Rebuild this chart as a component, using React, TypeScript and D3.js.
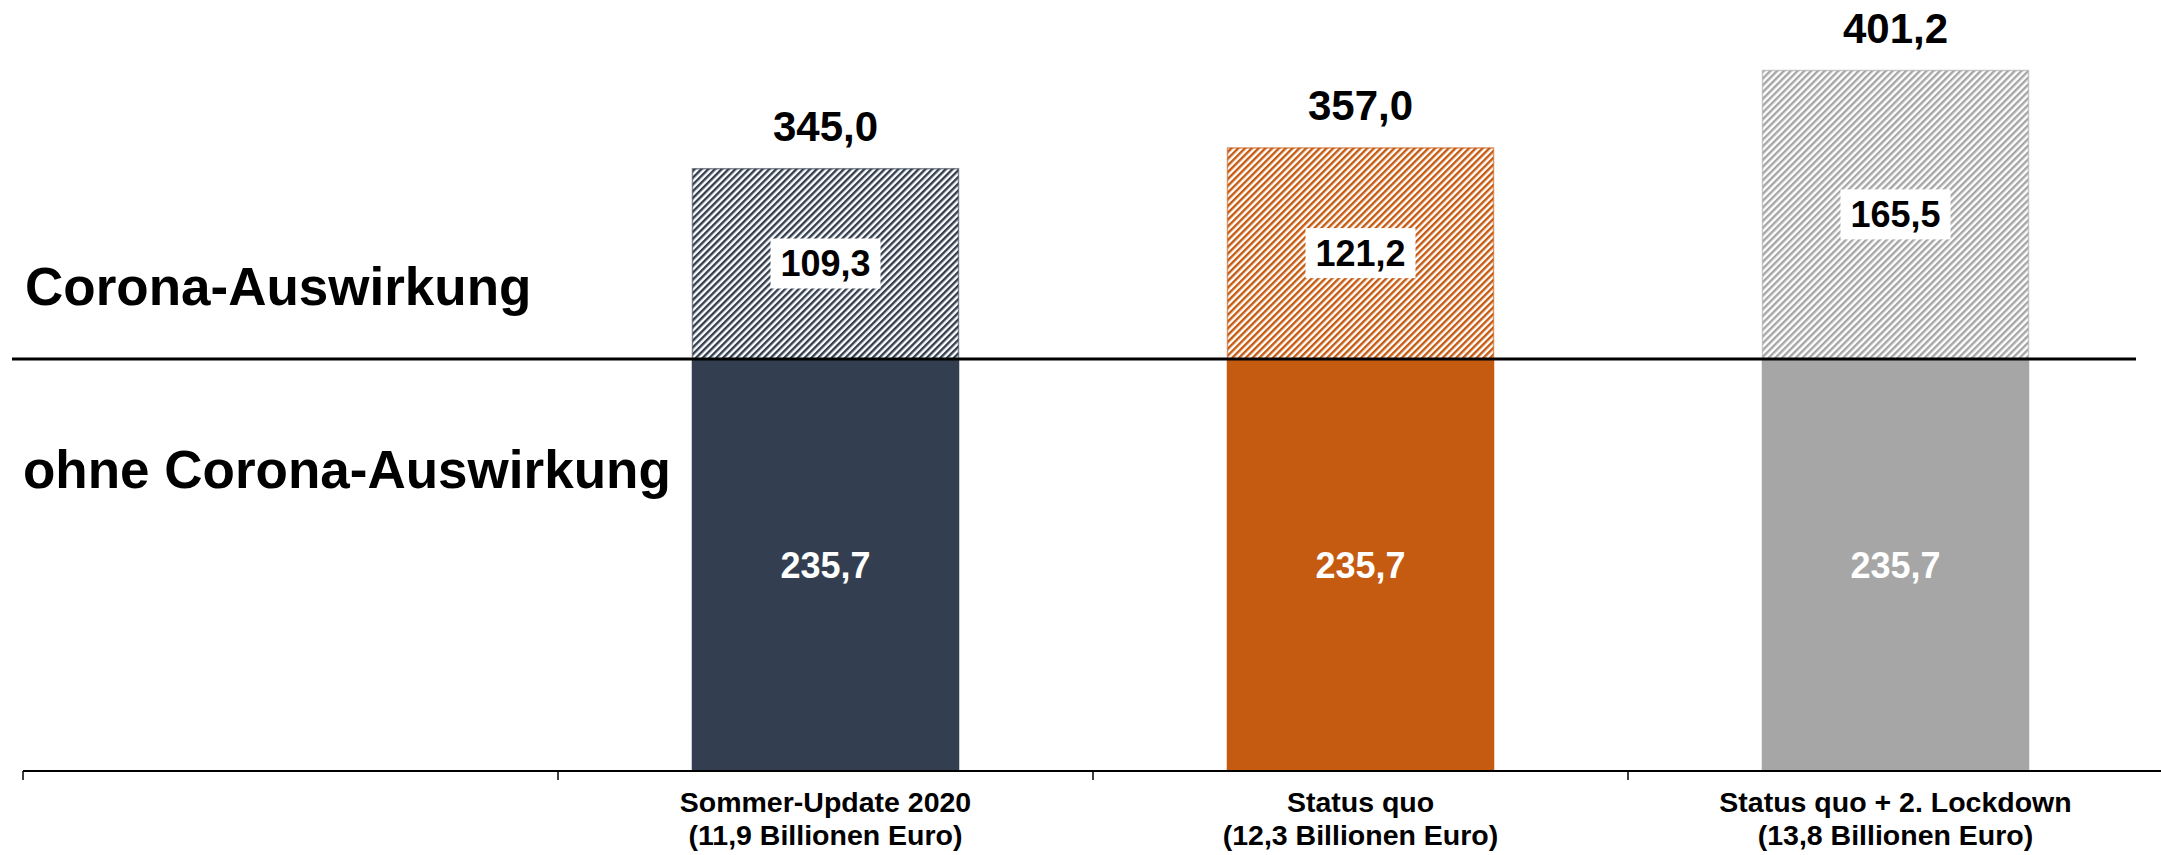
import React from "react";
import * as d3 from "d3";

const categories = ["", "Sommer-Update 2020", "Status quo", "Status quo + 2. Lockdown"];
const subLabels = ["", "(11,9 Billionen Euro)", "(12,3 Billionen Euro)", "(13,8 Billionen Euro)"];
const scenarios = ["Sommer-Update 2020", "Status quo", "Status quo + 2. Lockdown"];
const baseValues = [235.7, 235.7, 235.7];
const coronaValues = [109.3, 121.2, 165.5];
const totalValues = [345.0, 357.0, 401.2];
const colors = ["#333F50", "#C55A11", "#A6A6A6"];
const rowLabels = ["Corona-Auswirkung", "ohne Corona-Auswirkung"];

const W = 2161;
const H = 855;
const FONT = "'Liberation Sans', Arial, Helvetica, sans-serif";

const fmt = (v: number) => v.toFixed(1).replace(".", ",");

export default function App() {
  const x = d3.scaleBand<string>().domain(categories).range([23, 2163]).paddingInner(0.5).paddingOuter(0.25);
  const y = d3.scaleLinear().domain([0, 441.1]).range([771, 0]);
  const bw = x.bandwidth();
  const step = x.step();
  const gap = (step - bw) / 2;
  const baseY = y(baseValues[0]);

  return (
    <svg width={W} height={H} style={{ position: "absolute", left: 0, top: 0, display: "block", background: "#fff" }} fontFamily={FONT}>
      <defs>
        {colors.map((c, i) => (
          <pattern key={i} id={`hatch${i}`} patternUnits="userSpaceOnUse" width={4.8} height={4.8} patternTransform="rotate(45)">
            <rect width={4.8} height={4.8} fill="#fff" />
            <rect width={2.4} height={4.8} fill={c} />
          </pattern>
        ))}
      </defs>

      {scenarios.map((s, i) => {
        const x0 = x(s)!;
        const cx = x0 + bw / 2;
        const yb = y(baseValues[i]);
        const yt = y(baseValues[i] + coronaValues[i]);
        const midTop = (yb + yt) / 2;
        const midBase = (y(0) + yb) / 2;
        return (
          <g key={s}>
            <rect x={x0} y={yb} width={bw} height={y(0) - yb} fill={colors[i]} />
            <rect x={x0 + 0.75} y={yt + 0.75} width={bw - 1.5} height={yb - yt - 0.75} fill={`url(#hatch${i})`} stroke={colors[i]} strokeOpacity={0.6} strokeWidth={1.5} />
            <rect x={cx - 55} y={midTop - 25} width={110} height={50} fill="#fff" />
            <text x={cx} y={midTop} dy="0.36em" textAnchor="middle" fontSize={36} fontWeight="bold" fill="#000">
              {fmt(coronaValues[i])}
            </text>
            <text x={cx} y={midBase} dy="0.36em" textAnchor="middle" fontSize={36} fontWeight="bold" fill="#fff">
              {fmt(baseValues[i])}
            </text>
            <text x={cx} y={y(totalValues[i]) - 27} textAnchor="middle" fontSize={42} fontWeight="bold" fill="#000">
              {fmt(totalValues[i])}
            </text>
          </g>
        );
      })}

      <line x1={12} x2={2136} y1={baseY} y2={baseY} stroke="#000" strokeWidth={3} />

      <text x={25} y={305} fontSize={53} fontWeight="bold" fill="#000">{rowLabels[0]}</text>
      <text x={23} y={488} fontSize={53} fontWeight="bold" fill="#000">{rowLabels[1]}</text>

      <line x1={23} x2={W} y1={y(0)} y2={y(0)} stroke="#000" strokeWidth={2} />
      {categories.map((c) => {
        const bx = x(c)! - gap;
        return <line key={"t" + c} x1={bx} x2={bx} y1={y(0)} y2={y(0) + 9} stroke="#000" strokeWidth={1.5} />;
      })}
      {categories.map((c, i) => {
        const cx = x(c)! + bw / 2;
        return (
          <g key={"l" + c}>
            <text x={cx} y={812} textAnchor="middle" fontSize={28.5} fontWeight="bold" fill="#000">{c}</text>
            <text x={cx} y={845} textAnchor="middle" fontSize={28.5} fontWeight="bold" fill="#000">{subLabels[i]}</text>
          </g>
        );
      })}
    </svg>
  );
}
